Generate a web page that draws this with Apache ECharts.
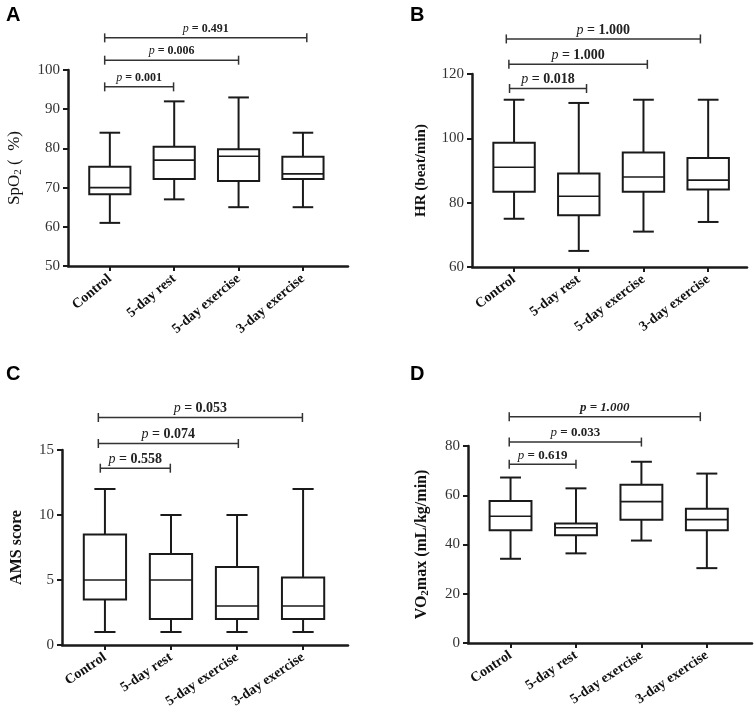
<!DOCTYPE html>
<html>
<head>
<meta charset="utf-8">
<script src="https://cdn.jsdelivr.net/npm/echarts@6/dist/echarts.min.js"></script>
<style>
  html, body { margin: 0; padding: 0; background: #fff; }
  #main { width: 754px; height: 712px; }
</style>
</head>
<body>
<div id="main"></div>
<script>
// groups (same for all four panels)
const categories = ['Control', '5-day rest', '5-day exercise', '3-day exercise'];

// box data per group: [min, Q1, median, Q3, max]
const spo2Box = [[61, 68.3, 70, 75.3, 84], [67, 72.2, 77, 80.4, 92], [65, 71.7, 78, 79.8, 93], [65, 72.2, 73.5, 77.9, 84]];
const hrBox = [[75, 83.4, 91, 98.6, 112], [65, 76.1, 82, 89.1, 111], [71, 83.4, 88, 95.6, 112], [74, 84.1, 87, 93.9, 112]];
const amsBox = [[1, 3.5, 5, 8.5, 12], [1, 2, 5, 7, 10], [1, 2, 3, 6, 10], [1, 2, 3, 5.2, 12]];
const vo2Box = [[34.2, 45.8, 51.5, 57.7, 67.2], [36.4, 43.8, 46.8, 48.5, 62.8], [41.6, 50.1, 57.4, 64.3, 73.6], [30.4, 45.8, 50.1, 54.5, 68.8]];

// comparison brackets: [from group, to group, height on y scale]
const spo2Pairs = [[-0.08, 0.99, 95.7], [-0.08, 2.0, 102.5], [-0.08, 3.06, 108.2]];
const spo2P = ['0.001', '0.006', '0.491'];
const hrPairs = [[-0.07, 1.12, 115.5], [-0.08, 2.06, 123], [-0.12, 2.88, 130.9]];
const hrP = ['0.018', '1.000', '1.000'];
const amsPairs = [[-0.07, 0.99, 13.6], [-0.1, 2.02, 15.5], [-0.1, 2.99, 17.5]];
const amsP = ['0.558', '0.074', '0.053'];
const vo2Pairs = [[-0.02, 1.0, 72.6], [-0.02, 2.0, 81.6], [-0.02, 2.9, 91.9]];
const vo2P = ['0.619', '0.033', '1.000'];
const vo2Italic = [false, false, true];

// y axis ticks
const spo2Ticks = { min: 50, max: 100, interval: 10 };
const hrTicks = { min: 60, max: 120, interval: 20 };
const amsTicks = { min: 0, max: 15, interval: 5 };
const vo2Ticks = { min: 0, max: 80, interval: 20 };

const serif = 'Liberation Serif';
const ink = '#1a1a1a';

var myChart = echarts.init(document.getElementById('main'));

function boxSeries(idx, boxes) {
  return {
    type: 'custom',
    xAxisIndex: idx,
    yAxisIndex: idx,
    data: boxes.map(function (b, i) { return [i].concat(b); }),
    encode: { x: 0, y: [1, 2, 3, 4, 5] },
    renderItem: function (params, api) {
      const i = api.value(0);
      const unit = api.size([1, 0])[0];
      const hb = unit * 0.32, hc = unit * 0.16;
      const pMin = api.coord([i, api.value(1)]);
      const pQ1 = api.coord([i, api.value(2)]);
      const pMed = api.coord([i, api.value(3)]);
      const pQ3 = api.coord([i, api.value(4)]);
      const pMax = api.coord([i, api.value(5)]);
      const x = pMed[0];
      const st = { stroke: ink, lineWidth: 2, fill: null };
      return {
        type: 'group',
        children: [
          { type: 'line', shape: { x1: x, y1: pQ3[1], x2: x, y2: pMax[1] }, style: st },
          { type: 'line', shape: { x1: x, y1: pQ1[1], x2: x, y2: pMin[1] }, style: st },
          { type: 'line', shape: { x1: x - hc, y1: pMax[1], x2: x + hc, y2: pMax[1] }, style: st },
          { type: 'line', shape: { x1: x - hc, y1: pMin[1], x2: x + hc, y2: pMin[1] }, style: st },
          { type: 'rect', shape: { x: x - hb, y: pQ3[1], width: hb * 2, height: pQ1[1] - pQ3[1] }, style: { stroke: ink, lineWidth: 2, fill: '#fff' } },
          { type: 'line', shape: { x1: x - hb, y1: pMed[1], x2: x + hb, y2: pMed[1] }, style: { stroke: ink, lineWidth: 1.6 } }
        ]
      };
    },
    z: 5
  };
}

function bracketSeries(idx, pairs, pvals, fontSize, italicFlags) {
  return {
    type: 'custom',
    xAxisIndex: idx,
    yAxisIndex: idx,
    clip: false,
    silent: true,
    data: pairs,
    encode: { x: [0, 1], y: 2 },
    renderItem: function (params, api) {
      const y = api.value(2);
      const a = api.coord([api.value(0), y]);
      const b = api.coord([api.value(1), y]);
      const h = 4.5;
      const st = { stroke: '#333', lineWidth: 1.5 };
      const p = pvals[params.dataIndex];
      const allItalic = italicFlags && italicFlags[params.dataIndex];
      const txt = allItalic ? '{b|p = ' + p + '}' : '{i|p}{n| = ' + p + '}';
      return {
        type: 'group',
        children: [
          { type: 'line', shape: { x1: a[0], y1: a[1], x2: b[0], y2: b[1] }, style: st },
          { type: 'line', shape: { x1: a[0], y1: a[1] - h, x2: a[0], y2: a[1] + h }, style: st },
          { type: 'line', shape: { x1: b[0], y1: b[1] - h, x2: b[0], y2: b[1] + h }, style: st },
          {
            type: 'text',
            x: (a[0] + b[0]) / 2,
            y: a[1] - 9,
            style: {
              text: txt,
              align: 'center',
              verticalAlign: 'middle',
              rich: {
                i: { fontFamily: serif, fontStyle: 'italic', fontSize: fontSize, fill: '#222' },
                n: { fontFamily: serif, fontWeight: 'bold', fontSize: fontSize, fill: '#222' },
                b: { fontFamily: serif, fontStyle: 'italic', fontWeight: 'bold', fontSize: fontSize, fill: '#222' }
              }
            }
          }
        ]
      };
    },
    z: 6
  };
}

function xAxisFor(idx, max, rot) {
  return {
    type: 'value',
    gridIndex: idx,
    min: -0.65,
    max: max,
    splitLine: { show: false },
    axisLine: { show: true, onZero: false, lineStyle: { color: ink, width: 2.5 } },
    axisTick: { show: true, customValues: [0, 1, 2, 3], length: 5, lineStyle: { color: ink, width: 2 } },
    axisLabel: {
      customValues: [0, 1, 2, 3],
      formatter: function (v) { return categories[Math.round(v)]; },
      rotate: rot,
      margin: 11,
      fontFamily: serif,
      fontWeight: 'bold',
      fontSize: 14,
      color: '#111'
    }
  };
}

function yAxisFor(idx, ticks, name, gap, nameStyle) {
  return {
    type: 'value',
    gridIndex: idx,
    min: ticks.min,
    max: ticks.max,
    interval: ticks.interval,
    name: name,
    nameLocation: 'middle',
    nameGap: gap,
    nameTextStyle: nameStyle,
    splitLine: { show: false },
    axisLine: { show: true, onZero: false, lineStyle: { color: ink, width: 2.5 } },
    axisTick: { show: true, length: 5, lineStyle: { color: ink, width: 2 } },
    axisLabel: { fontFamily: serif, fontSize: 15, color: '#333', margin: 8 }
  };
}

var option = {
  backgroundColor: '#fff',
  animation: false,
  title: [
    { text: 'A', left: 1, top: 0 },
    { text: 'B', left: 405, top: 0 },
    { text: 'C', left: 1, top: 359 },
    { text: 'D', left: 405, top: 359 }
  ].map(function (t) {
    t.textStyle = { fontFamily: 'Liberation Sans', fontWeight: 'bold', fontSize: 20, color: '#000' };
    return t;
  }),
  grid: [
    { left: 68, right: 406, top: 70, bottom: 446, outerBoundsMode: 'none' },
    { left: 472, right: 7, top: 74, bottom: 445, outerBoundsMode: 'none' },
    { left: 62, right: 406, top: 450, bottom: 67, outerBoundsMode: 'none' },
    { left: 468, right: 2, top: 446, bottom: 69, outerBoundsMode: 'none' }
  ],
  xAxis: [xAxisFor(0, 3.7, 40), xAxisFor(1, 3.6, 37), xAxisFor(2, 3.68, 34), xAxisFor(3, 3.69, 34)],
  yAxis: [
    yAxisFor(0, spo2Ticks, '{a|SpO}{s|2}{a| (  %)}', 44, {
      rich: {
        a: { fontFamily: serif, fontSize: 17, color: '#111' },
        s: { fontFamily: serif, fontSize: 11, color: '#111', verticalAlign: 'bottom', padding: [8, 0, 0, 0] }
      }
    }),
    yAxisFor(1, hrTicks, 'HR (beat/min)', 43, { fontFamily: serif, fontWeight: 'bold', fontSize: 15, color: '#111' }),
    yAxisFor(2, amsTicks, 'AMS score', 37, { fontFamily: serif, fontWeight: 'bold', fontSize: 16, color: '#111' }),
    yAxisFor(3, vo2Ticks, '{a|VO}{s|2}{a|max (mL/kg/min)}', 37, {
      rich: {
        a: { fontFamily: serif, fontWeight: 'bold', fontSize: 16, color: '#111' },
        s: { fontFamily: serif, fontWeight: 'bold', fontSize: 11, color: '#111', verticalAlign: 'bottom', padding: [8, 0, 0, 0] }
      }
    })
  ],
  series: [
    boxSeries(0, spo2Box), bracketSeries(0, spo2Pairs, spo2P, 12, null),
    boxSeries(1, hrBox), bracketSeries(1, hrPairs, hrP, 14, null),
    boxSeries(2, amsBox), bracketSeries(2, amsPairs, amsP, 14, null),
    boxSeries(3, vo2Box), bracketSeries(3, vo2Pairs, vo2P, 13, vo2Italic)
  ]
};

myChart.setOption(option);
</script>
</body>
</html>
